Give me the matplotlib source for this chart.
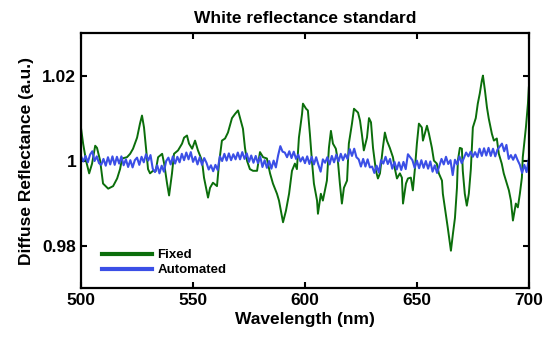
import matplotlib
matplotlib.use("Agg")
import matplotlib.pyplot as plt
import numpy as np

plt.rcParams['font.family'] = ['Liberation Sans', 'DejaVu Sans']
plt.rcParams['font.weight'] = 'bold'

# Fixed illumination trace
fixed_wl = [500, 500.9, 502.2, 503.6, 504.9, 506.3, 507.1, 508.5, 509.8, 512.1,
            514.3, 516.1, 517.4, 518.3, 520.5, 521.9, 523.2, 525.0, 526.3, 527.2,
            528.1, 529.0, 529.9, 530.8, 532.1, 533.3, 534.4, 536.2, 537.1, 538.4,
            539.3, 540.6, 541.5, 543.3, 545.1, 546.0, 547.3, 548.2, 549.6, 550.9,
            552.2, 554.0, 554.9, 556.7, 557.6, 558.9, 560.7, 561.6, 562.9, 564.3,
            565.6, 567.4, 568.8, 570.1, 571.0, 572.3, 573.2, 574.1, 575.4, 576.8,
            578.6, 579.9, 581.3, 583.0, 584.4, 585.7, 587.5, 588.4, 589.7, 590.2,
            591.5, 592.9, 594.2, 595.5, 596.4, 597.3, 598.7, 599.1, 600.5, 601.3,
            602.2, 603.1, 604.0, 605.4, 605.8, 607.1, 608.0, 609.8, 610.7, 611.6,
            612.5, 613.8, 614.7, 615.6, 616.5, 617.4, 618.8, 619.6, 621.0, 621.9,
            623.7, 624.6, 625.4, 626.3, 627.7, 628.6, 629.5, 630.4, 631.7, 632.6,
            633.5, 634.8, 635.7, 636.6, 637.9, 639.3, 640.2, 641.1, 642.4, 643.3,
            643.8, 645.1, 646.0, 647.3, 648.2, 649.1, 650.0, 650.9, 652.2, 652.7,
            654.5, 655.4, 656.7, 657.6, 658.9, 659.8, 661.2, 661.6, 662.9, 663.8,
            665.2, 666.1, 667.0, 667.9, 668.3, 669.2, 670.1, 670.5, 671.4, 672.3,
            673.2, 674.1, 675.0, 676.3, 677.2, 678.1, 679.0, 679.5, 680.4, 681.3,
            682.1, 683.5, 684.4, 685.7, 686.6, 687.9, 688.8, 690.2, 691.1, 692.0,
            692.9, 694.2, 695.1, 696.0, 696.9, 697.3, 698.7, 699.6, 700.0]
fixed = [1.0075, 1.0040, 1.0000, 0.9970, 0.9993, 1.0035, 1.0030, 1.0000, 0.9946, 0.9934,
         0.9940, 0.9958, 0.9980, 1.0005, 1.0008, 1.0016, 1.0028, 1.0054, 1.0087, 1.0106,
         1.0078, 1.0030, 0.9980, 0.9970, 0.9976, 0.9975, 1.0008, 1.0016, 0.9993, 0.9946,
         0.9918, 0.9970, 1.0016, 1.0024, 1.0040, 1.0054, 1.0059, 1.0040, 1.0028, 1.0047,
         1.0024, 1.0000, 0.9960, 0.9913, 0.9936, 0.9948, 0.9940, 0.9993, 1.0047, 1.0052,
         1.0066, 1.0100, 1.0110, 1.0118, 1.0100, 1.0075, 1.0030, 1.0000, 0.9980, 0.9976,
         0.9976, 1.0020, 1.0008, 1.0005, 0.9970, 0.9946, 0.9922, 0.9906, 0.9870, 0.9855,
         0.9882, 0.9922, 0.9976, 0.9993, 0.9980, 1.0054, 1.0110, 1.0134, 1.0122, 1.0118,
         1.0063, 1.0000, 0.9946, 0.9906, 0.9875, 0.9922, 0.9906, 0.9953, 1.0030, 1.0070,
         1.0040, 1.0028, 1.0000, 0.9946, 0.9899, 0.9936, 0.9953, 1.0040, 1.0087, 1.0122,
         1.0113, 1.0094, 1.0063, 1.0024, 1.0054, 1.0100, 1.0090, 1.0030, 0.9976, 0.9958,
         0.9970, 1.0030, 1.0066, 1.0047, 1.0030, 1.0008, 0.9980, 0.9958, 0.9970, 0.9960,
         0.9899, 0.9946, 0.9958, 0.9960, 0.9930, 0.9980, 1.0040, 1.0087, 1.0078, 1.0047,
         1.0082, 1.0063, 1.0030, 1.0000, 0.9993, 0.9970, 0.9953, 0.9922, 0.9875, 0.9842,
         0.9788, 0.9828, 0.9865, 0.9936, 1.0000, 1.0030, 1.0028, 0.9976, 0.9922, 0.9894,
         0.9922, 0.9980, 1.0078, 1.0100, 1.0134, 1.0158, 1.0188, 1.0200, 1.0165, 1.0125,
         1.0099, 1.0063, 1.0047, 1.0052, 1.0016, 0.9993, 0.9970, 0.9946, 0.9930, 0.9906,
         0.9859, 0.9899, 0.9890, 0.9922, 0.9960, 1.0008, 1.0078, 1.0134, 1.0172]

# Automated exposure trace, 1 nm steps from 500 to 700
auto_wl = list(range(500, 701))
automated = [
    1.0010, 0.9998, 1.0011, 0.9996, 1.0014, 1.0022, 0.9999, 1.0010, 0.9994, 0.9990,
    1.0004, 0.9988, 1.0008, 0.9991, 1.0010, 0.9990, 1.0009, 0.9993, 1.0010, 0.9989,
    1.0003, 0.9985, 1.0001, 0.9984, 1.0001, 1.0007, 0.9990, 1.0009, 0.9996, 1.0015,
    1.0000, 1.0013, 0.9981, 0.9973, 0.9989, 0.9970, 0.9988, 0.9974, 0.9999, 1.0007,
    0.9991, 1.0010, 0.9993, 1.0009, 0.9996, 1.0016, 1.0001, 1.0019, 1.0003, 1.0020,
    0.9997, 1.0009, 0.9991, 1.0008, 0.9990, 1.0006, 0.9995, 0.9979, 0.9989, 0.9975,
    0.9990, 0.9978, 1.0010, 0.9999, 1.0016, 1.0000, 1.0017, 1.0001, 1.0015, 1.0003,
    1.0019, 1.0003, 1.0020, 1.0004, 1.0017, 0.9997, 1.0012, 0.9995, 1.0011, 0.9994,
    1.0010, 0.9985, 1.0001, 0.9983, 0.9999, 0.9981, 1.0000, 0.9984, 1.0012, 1.0034,
    1.0021, 1.0019, 1.0008, 1.0022, 1.0006, 1.0021, 1.0004, 1.0014, 0.9998, 1.0008,
    0.9994, 1.0010, 0.9992, 1.0009, 0.9991, 1.0008, 0.9990, 0.9974, 1.0003, 0.9995,
    1.0008, 0.9991, 1.0011, 0.9996, 1.0014, 0.9998, 1.0016, 1.0001, 1.0015, 1.0004,
    1.0027, 1.0011, 1.0028, 1.0008, 1.0003, 0.9986, 1.0004, 0.9986, 1.0003, 0.9984,
    0.9986, 0.9971, 0.9988, 0.9972, 1.0001, 0.9993, 1.0009, 0.9992, 1.0004, 0.9981,
    0.9997, 0.9979, 0.9996, 0.9978, 0.9997, 0.9980, 1.0015, 1.0008, 1.0001, 0.9983,
    1.0000, 0.9982, 1.0001, 0.9983, 0.9999, 0.9981, 0.9998, 0.9974, 0.9989, 0.9971,
    0.9987, 1.0004, 0.9991, 1.0009, 0.9992, 1.0001, 0.9966, 1.0002, 0.9991, 1.0010,
    0.9994, 1.0006, 1.0019, 1.0010, 1.0021, 1.0009, 1.0020, 1.0008, 1.0028, 1.0011,
    1.0029, 1.0012, 1.0030, 1.0011, 1.0028, 1.0010, 1.0026, 1.0033, 1.0040, 1.0022,
    1.0037, 1.0004, 1.0013, 1.0002, 1.0014, 1.0001, 0.9990, 0.9971, 0.9990, 0.9973,
    1.0004]

xticks = [500, 550, 600, 650, 700]
yticks = [0.98, 1.0, 1.02]
ytick_labels = ['0.98', '1', '1.02']

fig = plt.figure(figsize=(5.48, 3.41), dpi=100)
ax = fig.add_axes([0.148, 0.155, 0.817, 0.748])

ax.plot(fixed_wl, fixed, color='#0b6e0b', lw=1.4, label='Fixed')
ax.plot(auto_wl, automated, color='#3b4fe6', lw=1.5, label='Automated')

ax.set_xlim(500, 700)
ax.set_ylim(0.97, 1.03)
ax.set_xticks(xticks)
ax.set_yticks(yticks)
ax.set_yticklabels(ytick_labels)
ax.tick_params(direction='in', top=True, right=True, labelsize=12.5, width=1.5, length=4)
for s in ax.spines.values():
    s.set_linewidth(1.6)

ax.set_title('White reflectance standard', fontsize=12.5, fontweight='bold', pad=7)
ax.set_xlabel('Wavelength (nm)', fontsize=12.5, fontweight='bold', labelpad=3)
ax.set_ylabel('Diffuse Reflectance (a.u.)', fontsize=12.5, fontweight='bold', labelpad=6)

leg = ax.legend(loc='lower left', bbox_to_anchor=(0.02, 0.0), frameon=False,
                fontsize=9.5, handlelength=3.8, handletextpad=0.4, labelspacing=0.2)
for line in leg.get_lines():
    line.set_linewidth(3)

fig.savefig('out.png', dpi=100)
